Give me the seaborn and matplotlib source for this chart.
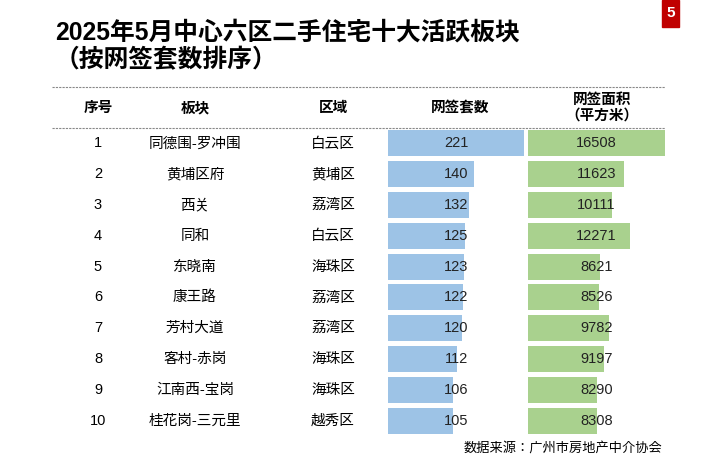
import matplotlib.pyplot as plt
import seaborn as sns
import pandas as pd

plt.rcParams['font.family'] = ['Liberation Sans', 'Noto Sans CJK SC', 'Noto Sans CJK JP', 'DejaVu Sans']

ranks = list(range(1, 11))
areas = ['同德围-罗冲围', '黄埔区府', '西关', '同和', '东晓南', '康王路', '芳村大道', '客村-赤岗', '江南西-宝岗', '桂花岗-三元里']
districts = ['白云区', '黄埔区', '荔湾区', '白云区', '海珠区', '荔湾区', '荔湾区', '海珠区', '海珠区', '越秀区']
units = [221, 140, 132, 125, 123, 122, 120, 112, 106, 105]
floor_area = [16508, 11623, 10111, 12271, 8621, 8526, 9782, 9197, 8290, 8308]

df = pd.DataFrame({'area': areas, 'units': units, 'floor': floor_area})

W, H = 704, 465
fig = plt.figure(figsize=(W / 100, H / 100), dpi=100)

def fx(x):
    return x / W

def fy(y):
    return 1 - y / H

top, bottom = 128, 436
row_h = (bottom - top) / 10

# bar columns
for left, right, col, color, vmax in [(388, 524, 'units', '#9dc3e6', 221),
                                      (528, 665, 'floor', '#a9d18e', 16508)]:
    ax = fig.add_axes([fx(left), fy(bottom), fx(right - left), (bottom - top) / H])
    sns.barplot(data=df, x=col, y='area', color=color, width=0.85, ax=ax,
                saturation=1, orient='h')
    ax.set_xlim(0, vmax)
    ax.set_ylim(9.5, -0.5)
    ax.axis('off')
    for i, v in enumerate(df[col]):
        ax.text(vmax * 0.5, i, str(v), ha='center', va='center', fontsize=10.5, color='#222222')

# title
fig.text(fx(55), fy(33), '2025年5月中心六区二手住宅十大活跃板块', fontsize=17.8, fontweight='bold', va='center')
fig.text(fx(55), fy(60), '（按网签套数排序）', fontsize=17.8, fontweight='bold', va='center')

# page badge
fig.patches.append(plt.Rectangle((fx(662), fy(27)), fx(17), 27 / H, transform=fig.transFigure,
                                 color='#c00000'))
fig.text(fx(670.5), fy(13), '5', color='white', fontsize=11, fontweight='bold', ha='center', va='center')

# header lines
for y in (87, 128):
    fig.add_artist(plt.Line2D([fx(52), fx(665)], [fy(y), fy(y)], color='#888888',
                              linestyle=(0, (2, 1)), linewidth=0.8))

cols_x = [98, 195, 333, 460, 602]
headers = ['序号', '板块', '区域', '网签套数', '网签面积\n（平方米）']
for x, h in zip(cols_x, headers):
    fig.text(fx(x), fy(108), h, ha='center', va='center', fontsize=10.5, fontweight='bold',
             linespacing=1.1)

for i in range(10):
    y = top + row_h * (i + 0.5)
    fig.text(fx(cols_x[0]), fy(y), str(ranks[i]), ha='center', va='center', fontsize=10.5)
    fig.text(fx(cols_x[1]), fy(y), areas[i], ha='center', va='center', fontsize=10.5)
    fig.text(fx(cols_x[2]), fy(y), districts[i], ha='center', va='center', fontsize=10.5)

fig.text(fx(662), fy(449), '数据来源：广州市房地产中介协会', ha='right', va='center', fontsize=9.5)

fig.savefig('out.png', dpi=100)
